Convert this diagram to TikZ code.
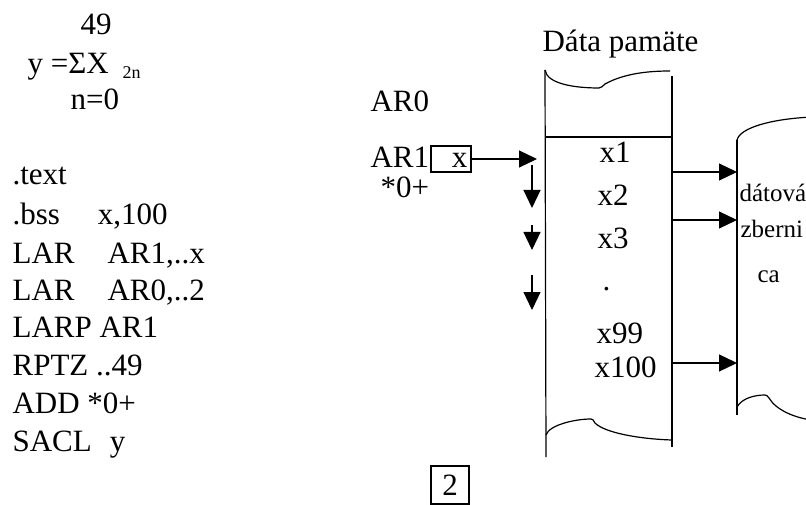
\documentclass[tikz,border=0pt]{standalone}
\usepackage{fontspec}
\setmainfont{Liberation Serif}
\usepackage{tikz}
\usetikzlibrary{arrows.meta}

\begin{document}
\begin{tikzpicture}[x=1pt,y=-1pt,line width=1.2pt,
    txt/.style={anchor=base west,inner sep=0pt,font=\fontsize{31}{36}\selectfont},
    small/.style={anchor=base west,inner sep=0pt,font=\fontsize{25}{28}\selectfont},
    arr/.style={-{Triangle[length=18pt,width=17pt]}}]
    \useasboundingbox (0,0) rectangle (806,505);
    \clip (0,0) rectangle (806,505);
    % formula
    \node[txt,anchor=base] (top) at (96,35) {49};
    \node[txt] (sum) at (27,74) {y =ΣX};
    \node[anchor=base west,inner sep=0pt,font=\fontsize{18}{20}\selectfont] (idx) at (122,79) {2n};
    \node[txt] (bot) at (70,110) {n=0};
    % program
    \node[txt] (l1) at (12,185) {.text};
    \node[txt] (l2) at (12,225) {.bss\hspace{38pt}x,100};
    \node[txt] (l3) at (12,263) {LAR\hspace{33pt}AR1,..x};
    \node[txt] (l4) at (12,300) {LAR\hspace{33pt}AR0,..2};
    \node[txt] (l5) at (12,337) {LARP AR1};
    \node[txt] (l6) at (12,375) {RPTZ ..49};
    \node[txt] (l7) at (12,413) {ADD *0+};
    \node[txt] (l8) at (12,451) {SACL\hspace{18pt}y};
    % registers
    \node[txt] (ar0) at (370,112) {AR0};
    \node[txt] (ar1) at (370,168) {AR1};
    \node[txt] (mode) at (380,198) {*0+};
    \node[draw,minimum width=40pt,minimum height=26pt,inner sep=0pt] (arbox) at (451,159) {};
    \node[anchor=base east,inner sep=0pt,font=\fontsize{31}{36}\selectfont] (arx) at (468,168) {x};
    % data memory
    \node[txt] (mem) at (542,52) {Dáta pamäte};
    \draw (545,70) .. controls (547,84) and (575,88) .. (599,88)
        .. controls (602,88) and (602,86) .. (605,84)
        .. controls (625,73) and (650,71) .. (670,71);
    \draw (545,70) -- (546,457);
    \draw (672,76) -- (672,447);
    \draw (545,137) -- (672,137);
    \draw (546,435) .. controls (549,425) and (575,419) .. (591,419)
        .. controls (593,419) and (593,420) .. (595,423)
        .. controls (605,433) and (640,439) .. (672,440);
    \node[txt] (x1) at (599,163) {x1};
    \node[txt] (x2) at (597,206) {x2};
    \node[txt] (x3) at (597,249) {x3};
    \node[txt] (dots) at (602,290) {.};
    \node[txt] (x99) at (596,343) {x99};
    \node[txt] (x100) at (594,377) {x100};
    % data bus
    \draw (737,140) .. controls (740,128) and (770,119) .. (812,117);
    \draw (737,140) -- (737,415);
    \draw (737,407) .. controls (742,398) and (755,395) .. (765,395)
        .. controls (767,395) and (767,396) .. (769,398)
        .. controls (776,410) and (795,418) .. (812,420);
    \node[small] (bus1) at (739,202) {dátová};
    \node[small] (bus2) at (740,238) {zberni};
    \node[small] (bus3) at (757,282) {ca};
    % pointer arrows
    \coordinate (ptr) at (537,159);
    \draw[arr] (arbox.east) -- (ptr);
    \coordinate (s1) at (532,165); \coordinate (e1) at (532,208);
    \coordinate (s2) at (532,225); \coordinate (e2) at (532,250);
    \coordinate (s3) at (532,275); \coordinate (e3) at (532,310);
    \draw[arr] (s1) -- (e1);
    \draw[arr] (s2) -- (e2);
    \draw[arr] (s3) -- (e3);
    % memory to bus
    \foreach \y [count=\i] in {172,220,363} {
        \coordinate (m\i) at (672,\y);
        \coordinate (b\i) at (737,\y);
        \draw[arr] (m\i) -- (b\i);
    }
    \node[draw,minimum width=38pt,minimum height=38pt,inner sep=0pt,font=\fontsize{31}{36}\selectfont] (page) at (450,485) {2};
\end{tikzpicture}
\end{document}
